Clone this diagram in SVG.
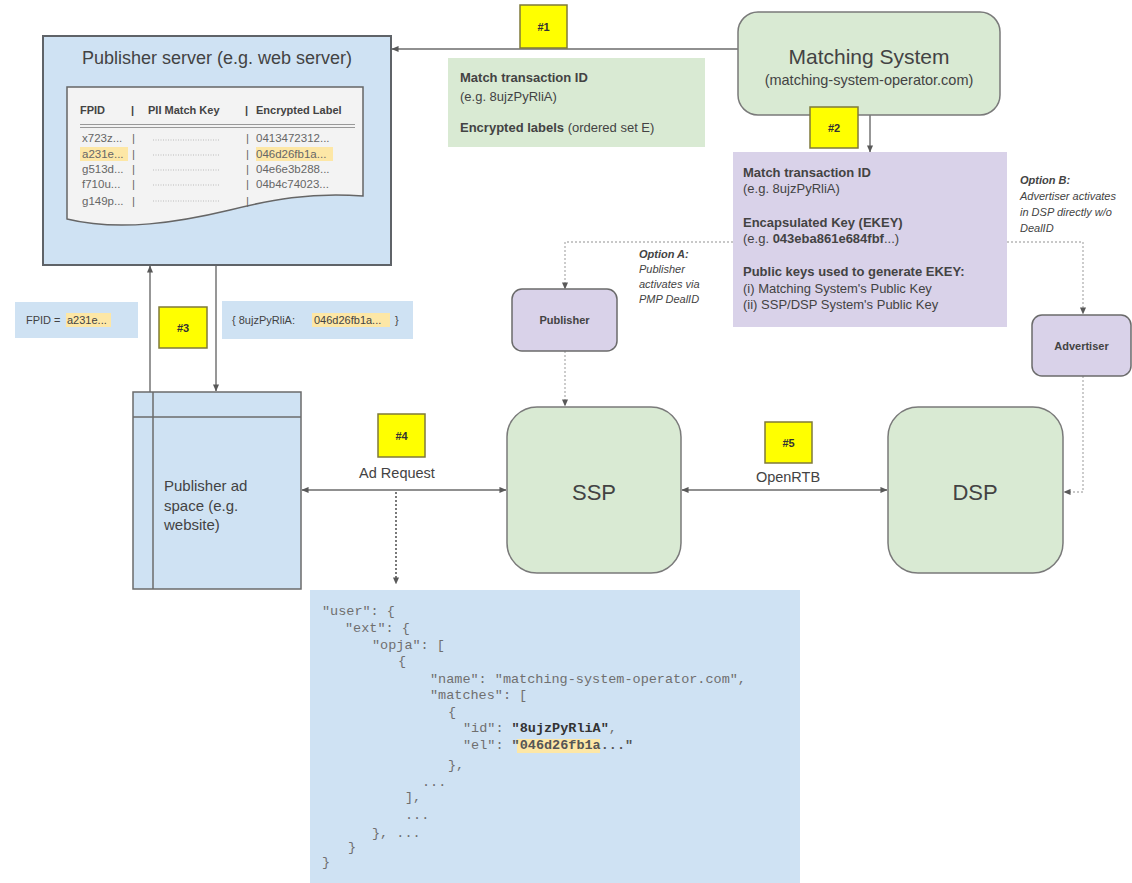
<svg xmlns="http://www.w3.org/2000/svg" width="1132" height="883" viewBox="0 0 1132 883">
<defs>
<marker id="ah" viewBox="0 0 8 8" refX="7.5" refY="4" markerWidth="7" markerHeight="7" markerUnits="userSpaceOnUse" orient="auto-start-reverse">
<path d="M0,0.5 L8,4 L0,7.5 Z" fill="#595959"/>
</marker>
<style>
text{font-family:"Liberation Sans",Arial,sans-serif;fill:#434343}
.b{font-weight:bold}
.it{font-style:italic}
.mono{font-family:"Liberation Mono","Courier New",monospace;font-size:13.5px;fill:#6f6f6f}
.line{stroke:#6b6b6b;stroke-width:1.4;fill:none}
.dot{stroke:#b7b7b7;stroke-width:1.4;fill:none;stroke-dasharray:2 2}
.ddot{stroke:#595959;stroke-width:1.6;fill:none;stroke-dasharray:2 2}
.blue{fill:#cfe2f3}
.green{fill:#d9ead3;stroke:#7a7a7a;stroke-width:1.5}
.purple{fill:#d9d2e9;stroke:#6b6b6b;stroke-width:1.5}
.yel{fill:#ffff00;stroke:#7f7a3a;stroke-width:1.5}
.yt{font-size:11px;font-weight:bold;fill:#333;text-anchor:middle}
.hl{fill:#fde7a6}
.box{font-size:13px}
.tbl{font-size:11.5px;fill:#666}
</style>
</defs>

<g id="connectors">
<line class="line" x1="738" y1="49" x2="392" y2="49" marker-end="url(#ah)"/>
<line class="line" x1="870" y1="115" x2="870" y2="152" marker-end="url(#ah)"/>
<line class="line" x1="150" y1="392" x2="150" y2="266" marker-end="url(#ah)"/>
<line class="line" x1="216" y1="266" x2="216" y2="391" marker-end="url(#ah)"/>
<line class="line" x1="302" y1="490" x2="506" y2="490" marker-start="url(#ah)" marker-end="url(#ah)"/>
<line class="line" x1="682" y1="490" x2="887" y2="490" marker-start="url(#ah)" marker-end="url(#ah)"/>
<line class="ddot" x1="396" y1="492" x2="396" y2="584" marker-end="url(#ah)"/>
<polyline class="dot" points="733,242 565,242 565,289" marker-end="url(#ah)"/>
<line class="dot" x1="565" y1="351" x2="565" y2="406" marker-end="url(#ah)"/>
<polyline class="dot" points="1007,242 1083,242 1083,314" marker-end="url(#ah)"/>
<polyline class="dot" points="1083,376 1083,492 1064,492" marker-end="url(#ah)"/>
</g>

<g id="publisher-server">
<rect x="43" y="36" width="348" height="229" class="blue" stroke="#5f6368" stroke-width="2"/>
<text x="217" y="64" font-size="18" text-anchor="middle">Publisher server (e.g. web server)</text>
<path d="M67,87 H363 V196 C310,192 270,200 230,210 C180,222 120,232 67,219 Z" fill="#f3f3f3" stroke="#666" stroke-width="1.5"/>
<text x="80" y="114" font-size="11" class="b" fill="#444">FPID</text>
<text x="131" y="114" font-size="11" class="b">|</text>
<text x="148" y="114" font-size="11" class="b">PII Match Key</text>
<text x="245" y="114" font-size="11" class="b">|</text>
<text x="256" y="114" font-size="11" class="b">Encrypted Label</text>
<line x1="80" y1="124.5" x2="355" y2="124.5" stroke="#999" stroke-width="1"/>
<line x1="80" y1="127.5" x2="355" y2="127.5" stroke="#999" stroke-width="1"/>
<rect x="80" y="147" width="48" height="14" class="hl"/>
<rect x="256" y="147" width="77" height="14" class="hl"/>
<g class="tbl">
<text x="82" y="142" class="tbl">x723z...</text>
<text x="82" y="158" class="tbl">a231e...</text>
<text x="82" y="173" class="tbl">g513d...</text>
<text x="82" y="188" class="tbl">f710u...</text>
<text x="82" y="205" class="tbl">g149p...</text>
<text x="132" y="142" class="tbl">|</text>
<text x="132" y="158" class="tbl">|</text>
<text x="132" y="173" class="tbl">|</text>
<text x="132" y="188" class="tbl">|</text>
<text x="132" y="205" class="tbl">|</text>
<text x="246" y="142" class="tbl">|</text>
<text x="246" y="158" class="tbl">|</text>
<text x="246" y="173" class="tbl">|</text>
<text x="246" y="188" class="tbl">|</text>
<text x="246" y="205" class="tbl">|</text>
<text x="256" y="142" class="tbl">0413472312...</text>
<text x="256" y="158" class="tbl">046d26fb1a...</text>
<text x="256" y="173" class="tbl">04e6e3b288...</text>
<text x="256" y="188" class="tbl">04b4c74023...</text>
</g>
<g stroke="#bbb" stroke-width="1" stroke-dasharray="1 1.5">
<line x1="153" y1="140" x2="220" y2="140"/>
<line x1="153" y1="155" x2="220" y2="155"/>
<line x1="153" y1="170" x2="220" y2="170"/>
<line x1="153" y1="185" x2="220" y2="185"/>
<line x1="153" y1="201" x2="220" y2="201"/>
</g>
</g>

<g id="step1">
<rect x="520" y="5" width="47" height="43" class="yel"/>
<text x="543.5" y="31" class="yt">#1</text>
</g>

<g id="match-data">
<rect x="448" y="58" width="257" height="89" fill="#d9ead3"/>
<text x="460" y="82" class="box b">Match transaction ID</text>
<text x="460" y="101" class="box" font-size="12" fill="#666">(e.g. 8ujzPyRliA)</text>
<text x="460" y="132" class="box"><tspan class="b">Encrypted labels</tspan> (ordered set E)</text>
</g>

<g id="matching-system">
<rect x="738" y="12" width="262" height="103" rx="20" class="green"/>
<text x="869" y="64" font-size="21" text-anchor="middle">Matching System</text>
<text x="869" y="85" font-size="14.5" text-anchor="middle">(matching-system-operator.com)</text>
</g>

<g id="step2">
<rect x="810" y="107" width="48" height="41" class="yel"/>
<text x="834" y="132" class="yt">#2</text>
</g>

<g id="ekey-data">
<rect x="733" y="152" width="274" height="175" fill="#d9d2e9"/>
<text x="743" y="177" class="box b">Match transaction ID</text>
<text x="743" y="193" class="box" font-size="12">(e.g. 8ujzPyRliA)</text>
<text x="743" y="227" class="box b">Encapsulated Key (EKEY)</text>
<text x="743" y="243" class="box" font-size="12">(e.g. <tspan class="b">043eba861e684fbf</tspan>...)</text>
<text x="743" y="276" class="box b">Public keys used to generate EKEY:</text>
<text x="743" y="293" class="box">(i) Matching System's Public Key</text>
<text x="743" y="309" class="box">(ii) SSP/DSP System's Public Key</text>
</g>

<g id="option-a">
<text x="639" y="258" font-size="11" class="b it">Option A:</text>
<text x="639" y="273" font-size="11" class="it">Publisher</text>
<text x="639" y="288" font-size="11" class="it">activates via</text>
<text x="639" y="303" font-size="11" class="it">PMP DealID</text>
</g>

<g id="option-b">
<text x="1020" y="184" font-size="11" class="b it">Option B:</text>
<text x="1020" y="200" font-size="11" class="it">Advertiser activates</text>
<text x="1020" y="216" font-size="11" class="it">in DSP directly w/o</text>
<text x="1020" y="232" font-size="11" class="it">DealID</text>
</g>

<g id="publisher">
<rect x="512" y="289" width="105" height="62" rx="10" class="purple"/>
<text x="564.5" y="324" font-size="11" class="b" text-anchor="middle">Publisher</text>
</g>

<g id="advertiser">
<rect x="1032" y="315" width="99" height="61" rx="10" class="purple"/>
<text x="1081.5" y="350" font-size="11" class="b" text-anchor="middle">Advertiser</text>
</g>

<g id="fpid-data">
<rect x="15" y="302" width="123" height="36" class="blue"/>
<rect x="66" y="313" width="45" height="14" class="hl"/>
<text x="26" y="324" font-size="11">FPID = <tspan x="67">a231e...</tspan></text>
</g>

<g id="step3">
<rect x="159" y="307" width="48" height="41" class="yel"/>
<text x="183" y="332" class="yt">#3</text>
</g>

<g id="label-data">
<rect x="222" y="301" width="191" height="38" class="blue"/>
<rect x="312" y="313" width="78" height="14" class="hl"/>
<text x="232" y="324" font-size="11">{ 8ujzPyRliA: <tspan x="314">046d26fb1a...</tspan><tspan x="395">}</tspan></text>
</g>

<g id="publisher-ad-space">
<rect x="133" y="392" width="168" height="197" class="blue" stroke="#6b6b6b" stroke-width="1.5"/>
<line x1="133" y1="417" x2="301" y2="417" stroke="#6b6b6b" stroke-width="1.5"/>
<line x1="153" y1="392" x2="153" y2="589" stroke="#6b6b6b" stroke-width="1.5"/>
<text x="164" y="491" font-size="15">Publisher ad</text>
<text x="164" y="511" font-size="15">space (e.g.</text>
<text x="164" y="530" font-size="15">website)</text>
</g>

<g id="step4">
<rect x="378" y="414" width="47" height="43" class="yel"/>
<text x="401.5" y="440" class="yt">#4</text>
<text x="397" y="478" font-size="14.5" text-anchor="middle">Ad Request</text>
</g>

<g id="ssp">
<rect x="507" y="407" width="174" height="166" rx="30" class="green"/>
<text x="594" y="500" font-size="22" text-anchor="middle">SSP</text>
</g>

<g id="step5">
<rect x="765" y="422" width="47" height="41" class="yel"/>
<text x="788.5" y="447" class="yt">#5</text>
<text x="788" y="482" font-size="14.5" text-anchor="middle">OpenRTB</text>
</g>

<g id="dsp">
<rect x="888" y="407" width="175" height="166" rx="30" class="green"/>
<text x="975" y="500" font-size="22" text-anchor="middle">DSP</text>
</g>

<g id="json-payload">
<rect x="310" y="590" width="490" height="293" class="blue"/>
<rect x="517" y="739" width="83" height="14" class="hl"/>
<text x="322" y="615" class="mono">"user": {</text>
<text x="345" y="632" class="mono">"ext": {</text>
<text x="372" y="649" class="mono">"opja": [</text>
<text x="398" y="665" class="mono">{</text>
<text x="430" y="683" class="mono">"name": "matching-system-operator.com",</text>
<text x="430" y="699" class="mono">"matches": [</text>
<text x="448" y="716" class="mono">{</text>
<text x="463" y="732" class="mono">"id": <tspan class="b" fill="#333">"8ujzPyRliA"</tspan>,</text>
<text x="463" y="749" class="mono">"el": <tspan class="b" fill="#555">"046d26fb1a..."</tspan></text>
<text x="448" y="769" class="mono">},</text>
<text x="422" y="786" class="mono">...</text>
<text x="405" y="801" class="mono">],</text>
<text x="405" y="819" class="mono">...</text>
<text x="372" y="837" class="mono">}, ...</text>
<text x="348" y="851" class="mono">}</text>
<text x="322" y="866" class="mono">}</text>
</g>
</svg>
